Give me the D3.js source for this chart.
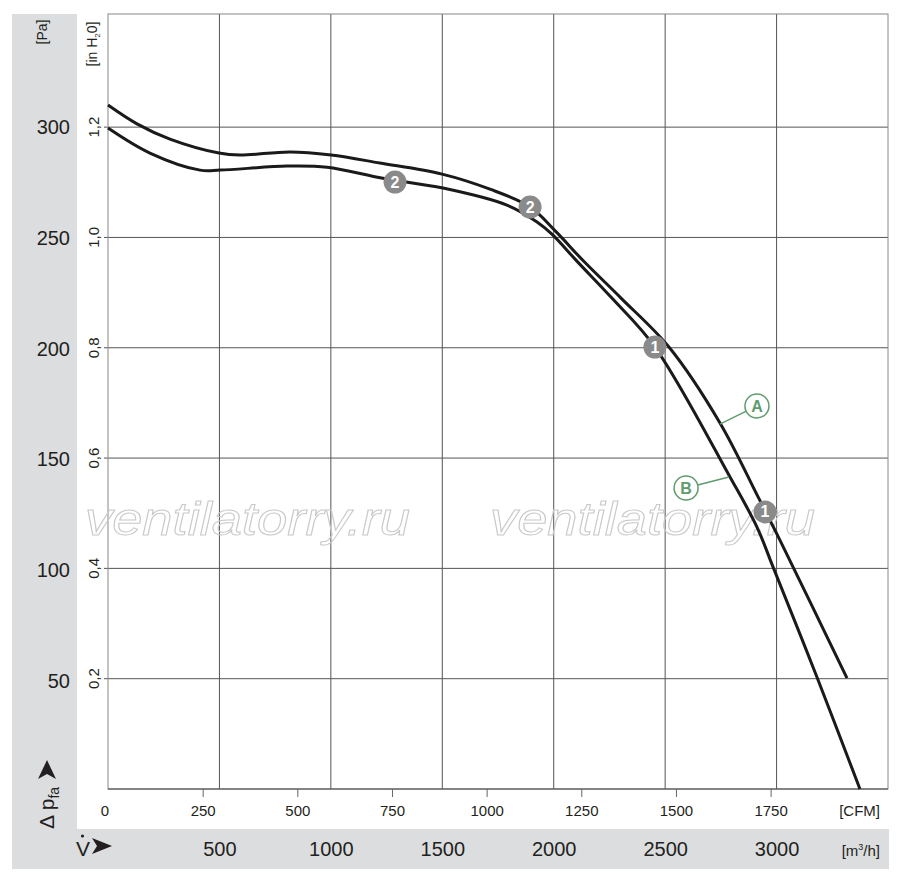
<!DOCTYPE html>
<meta charset="utf-8">
<script src="https://d3js.org/d3.v7.min.js"></script>
<style>
  body { margin: 0; background: #fff; }
  text { font-family: "Liberation Sans Narrow", "Liberation Sans", Arial, sans-serif; fill: #231f20; }
</style>
<div id="chart"></div>
<script>

// flow in m3/h, pressure in Pa
var curveA_flow = [0, 130, 278, 498, 592, 817, 1001, 1220, 1499, 1714, 1894, 2010, 2136, 2302, 2517, 2746, 2917, 3015, 3316];
var curveA_pa   = [308.9, 300.4, 293.5, 287.2, 286.3, 287.7, 286.3, 282.7, 277.7, 270.9, 262.8, 251.7, 238.2, 221.7, 199.6, 165.3, 131.9, 112.4, 50.1];

var curveB_flow = [0, 188, 413, 503, 803, 983, 1234, 1503, 1790, 1925, 1992, 2104, 2261, 2454, 2791, 2912, 2984, 3181, 3374];
var curveB_pa   = [298.5, 287.2, 279.5, 279.5, 281.3, 280.8, 275.8, 271.4, 263.7, 256.1, 250.6, 238.4, 221.7, 199.6, 140.9, 118.3, 100.3, 50.6, 0];

// operating points: [label, flow, pa]
var pointsA = [["2", 1894, 262.8], ["1", 2948, 125.1]];
var pointsB = [["2", 1288, 274.1], ["1", 2454, 199.6]];

// curve labels: [letter, flow on curve, pa on curve, flow of bubble, pa of bubble]
var curveLabels = [["A", 2746, 164.8, 2912, 173.0], ["B", 2786, 140.9, 2594, 135.9]];

var paTicks   = [50, 100, 150, 200, 250, 300];
var inH2OTicks = [0.2, 0.4, 0.6, 0.8, 1.0, 1.2];
var cfmTicks  = [250, 500, 750, 1000, 1250, 1500, 1750];
var m3hTicks  = [500, 1000, 1500, 2000, 2500, 3000];
var watermark = "ventilatorry.ru";

var W = 900, H = 882;
var pLeft = 108, pRight = 888, pTop = 14, pBottom = 789;

var svg = d3.select("#chart").append("svg")
    .attr("width", W)
    .attr("height", H);

// scales
var x = d3.scaleLinear().domain([0, 3500]).range([pLeft, pRight]);
var y = d3.scaleLinear().domain([0, 350]).range([pBottom, pTop]);
var xCfm = d3.scaleLinear().domain([0, 3500 / 1.699]).range([pLeft, pRight]);
var yIn = d3.scaleLinear().domain([0, 350 / 249.09]).range([pBottom, pTop]);

// grey panels
svg.append("rect").attr("x", 12).attr("y", 14).attr("width", 65).attr("height", 815).attr("fill", "#dcdddf");
svg.append("rect").attr("x", 12).attr("y", 829).attr("width", 877).attr("height", 40).attr("fill", "#dcdddf");

// grid
svg.append("g").selectAll("line").data(m3hTicks).enter().append("line")
    .attr("x1", function(d) { return x(d); }).attr("x2", function(d) { return x(d); })
    .attr("y1", pTop).attr("y2", pBottom)
    .attr("stroke", "#555").attr("stroke-width", 1);
svg.append("g").selectAll("line").data(inH2OTicks).enter().append("line")
    .attr("x1", pLeft - 4).attr("x2", pRight)
    .attr("y1", function(d) { return yIn(d); }).attr("y2", function(d) { return yIn(d); })
    .attr("stroke", "#555").attr("stroke-width", 1);

// frame
svg.append("rect").attr("x", pLeft).attr("y", pTop).attr("width", pRight - pLeft).attr("height", pBottom - pTop)
    .attr("fill", "none").attr("stroke", "#888").attr("stroke-width", 1);
svg.append("line").attr("x1", pLeft).attr("x2", pRight).attr("y1", pBottom).attr("y2", pBottom)
    .attr("stroke", "#444");

// watermark
svg.append("g").selectAll("text").data([85, 490]).enter().append("text")
    .attr("x", function(d) { return d; }).attr("y", 535)
    .attr("textLength", 325).attr("lengthAdjust", "spacingAndGlyphs")
    .style("font-family", "Liberation Sans, sans-serif")
    .style("font-style", "italic")
    .style("font-size", "46px")
    .style("fill", "none").style("stroke", "#c9c9c9").style("stroke-width", 1)
    .text(watermark);

// CFM axis
var cfmAxis = svg.append("g")
    .attr("transform", "translate(0," + pBottom + ")")
    .call(d3.axisBottom(xCfm).tickValues(cfmTicks).tickSize(8).tickPadding(8).tickFormat(d3.format("d")));
cfmAxis.select(".domain").remove();
cfmAxis.selectAll("line").attr("stroke", "#666");
cfmAxis.selectAll("text").style("font-size", "15px").attr("fill", "#231f20");
svg.append("text").attr("x", 105).attr("y", 816).attr("text-anchor", "middle").style("font-size", "15px").text("0");
svg.append("text").attr("x", 880).attr("y", 816).attr("text-anchor", "end").style("font-size", "15px").text("[CFM]");

// m3/h axis
var m3hAxis = svg.append("g")
    .attr("transform", "translate(0,856)")
    .call(d3.axisBottom(x).tickValues(m3hTicks).tickSize(0).tickPadding(0).tickFormat(d3.format("d")));
m3hAxis.select(".domain").remove();
m3hAxis.selectAll("text").attr("dy", 0).attr("y", 0).style("font-size", "20px").attr("fill", "#231f20");
var m3 = svg.append("text").attr("x", 880).attr("y", 856).attr("text-anchor", "end").style("font-size", "15px");
m3.append("tspan").text("[m");
m3.append("tspan").attr("dy", -6).style("font-size", "9px").text("3");
m3.append("tspan").attr("dy", 6).text("/h]");

// Pa axis
var paAxis = svg.append("g")
    .attr("transform", "translate(78,0)")
    .call(d3.axisLeft(y).tickValues(paTicks).tickSize(0).tickPadding(8).tickFormat(d3.format("d")));
paAxis.select(".domain").remove();
paAxis.selectAll("text").attr("dy", "0.45em").style("font-size", "20px").attr("fill", "#231f20");

// in H2O labels (rotated)
svg.append("g").selectAll("text").data(inH2OTicks).enter().append("text")
    .attr("transform", function(d) { return "translate(99," + yIn(d) + ") rotate(-90)"; })
    .attr("text-anchor", "middle")
    .style("font-size", "15px")
    .text(function(d) { return d3.format(".1f")(d).replace(".", ","); });

// unit labels
svg.append("text").attr("transform", "translate(47,32) rotate(-90)").attr("text-anchor", "middle")
    .style("font-size", "14px").text("[Pa]");
var inh = svg.append("text").attr("transform", "translate(97,44) rotate(-90)").attr("text-anchor", "middle")
    .style("font-size", "14px");
inh.append("tspan").text("[in H");
inh.append("tspan").attr("dy", 3).style("font-size", "8px").text("2");
inh.append("tspan").attr("dy", -3).text("0]");

// delta p_fa label
var dp = svg.append("text").attr("transform", "translate(54,829) rotate(-90)")
    .style("font-size", "21px");
dp.append("tspan").text("\u0394 p");
dp.append("tspan").attr("dy", 5).style("font-size", "14px").text("fa");
svg.append("path").attr("d", "M38,779 L47,760 L56,779 L47,774 Z").attr("fill", "#231f20");

// V dot label
svg.append("text").attr("x", 76).attr("y", 856).style("font-size", "21px").text("V");
svg.append("circle").attr("cx", 82.5).attr("cy", 836).attr("r", 1.6).attr("fill", "#231f20");
svg.append("path").attr("d", "M92,838 L112,846 L92,854 L97,846 Z").attr("fill", "#231f20");

// curves
var line = d3.line()
    .x(function(d) { return x(d[0]); })
    .y(function(d) { return y(d[1]); })
    .curve(d3.curveCatmullRom.alpha(0.5));

var seriesA = d3.zip(curveA_flow, curveA_pa);
var seriesB = d3.zip(curveB_flow, curveB_pa);

[seriesA, seriesB].forEach(function(s) {
  svg.append("path").datum(s)
      .attr("d", line)
      .attr("fill", "none")
      .attr("stroke", "#1a1a1a")
      .attr("stroke-width", 3);
});

// curve labels
var green = "#5e9c6e";
var lab = svg.append("g").selectAll("g").data(curveLabels).enter().append("g");
lab.append("line")
    .attr("x1", function(d) { return x(d[1]); }).attr("y1", function(d) { return y(d[2]); })
    .attr("x2", function(d) { return x(d[3]); }).attr("y2", function(d) { return y(d[4]); })
    .attr("stroke", green).attr("stroke-width", 1.5);
lab.append("circle")
    .attr("cx", function(d) { return x(d[3]); }).attr("cy", function(d) { return y(d[4]); })
    .attr("r", 12).attr("fill", "#fff").attr("stroke", green).attr("stroke-width", 1.5);
lab.append("text")
    .attr("x", function(d) { return x(d[3]); }).attr("y", function(d) { return y(d[4]) + 6; })
    .attr("text-anchor", "middle")
    .style("font-size", "16px").style("font-weight", "bold").style("fill", green)
    .text(function(d) { return d[0]; });

// operating points
var pts = svg.append("g").selectAll("g").data(pointsA.concat(pointsB)).enter().append("g");
pts.append("circle")
    .attr("cx", function(d) { return x(d[1]); }).attr("cy", function(d) { return y(d[2]); })
    .attr("r", 11.5).attr("fill", "#8a8a8a");
pts.append("text")
    .attr("x", function(d) { return x(d[1]); }).attr("y", function(d) { return y(d[2]) + 5.5; })
    .attr("text-anchor", "middle")
    .style("font-size", "16px").style("font-weight", "bold").style("fill", "#fff")
    .text(function(d) { return d[0]; });

</script>
